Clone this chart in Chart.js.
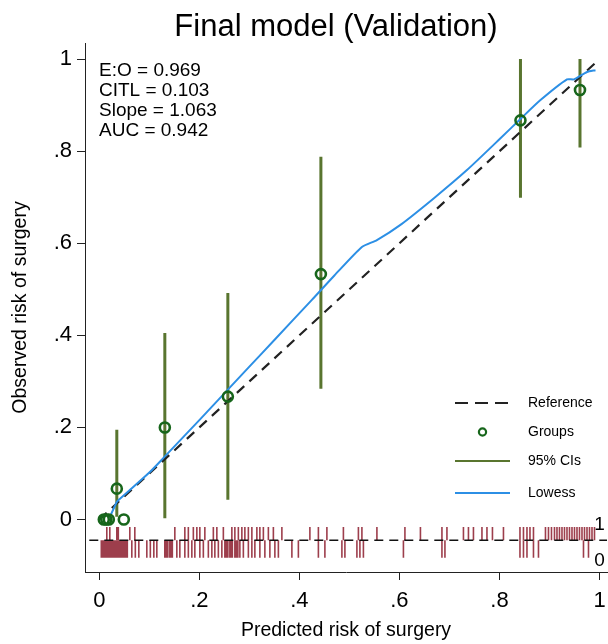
<!DOCTYPE html>
<html>
<head>
<meta charset="utf-8">
<script src="https://cdn.jsdelivr.net/npm/chart.js@4.4.0/dist/chart.umd.min.js"></script>
<style>
  body { margin: 0; background: #fff; }
  #wrap { width: 608px; height: 644px; position: relative; }
</style>
</head>
<body>
<div id="wrap"><canvas id="calib"></canvas></div>
<script>
// Calibration plot - final model, validation cohort

// Axis ticks
const tickValues = [0, 0.2, 0.4, 0.6, 0.8, 1];
const tickLabels = ['0', '.2', '.4', '.6', '.8', '1'];

// Risk groups: mean predicted vs observed
const groupX = [0.009, 0.014, 0.019, 0.035, 0.049, 0.131, 0.257, 0.443, 0.842, 0.961];
const groupY = [0, 0, 0, 0.067, 0, 0.200, 0.267, 0.533, 0.867, 0.933];

// 95% CIs (groups with events only)
const ciX = [0.035, 0.131, 0.257, 0.443, 0.842, 0.961];
const ciLow = [0.006, 0.003, 0.043, 0.284, 0.699, 0.808];
const ciHigh = [0.195, 0.405, 0.492, 0.788, 1.0, 1.0];

// Lowess smoother
const lowessX = [0.020, 0.035, 0.039, 0.060, 0.100, 0.125, 0.200, 0.257, 0.300, 0.350, 0.425, 0.470,
                 0.525, 0.555, 0.602, 0.669, 0.735, 0.802, 0.842, 0.882, 0.935, 0.949, 0.975, 0.992];
const lowessY = [0.003, 0.038, 0.043, 0.063, 0.102, 0.130, 0.216, 0.282, 0.332, 0.390, 0.477, 0.530,
                 0.592, 0.607, 0.640, 0.698, 0.759, 0.828, 0.870, 0.911, 0.956, 0.956, 0.972, 0.976];

// Rug: predicted risk of patients with surgery (up) and without (down)
const rugEvents = [0.015, 0.021, 0.035, 0.038, 0.061, 0.071, 0.151, 0.171, 0.178, 0.188, 0.195, 0.201,
                   0.211, 0.228, 0.235, 0.248, 0.265, 0.271, 0.278, 0.285, 0.291, 0.298, 0.305, 0.315,
                   0.321, 0.328, 0.338, 0.348, 0.365, 0.421, 0.438, 0.455, 0.488, 0.518, 0.525, 0.555,
                   0.611, 0.642, 0.685, 0.695, 0.728, 0.738, 0.748, 0.765, 0.775, 0.786, 0.808, 0.841,
                   0.848, 0.855, 0.861, 0.868, 0.892, 0.898, 0.904, 0.910, 0.915, 0.920, 0.925, 0.930,
                   0.935, 0.940, 0.945, 0.950, 0.955, 0.960, 0.965, 0.970, 0.975, 0.980, 0.985, 0.990];
const rugNonEvents = [0.004, 0.006, 0.008, 0.010, 0.012, 0.014, 0.016, 0.018, 0.020, 0.022, 0.024, 0.026,
                      0.028, 0.030, 0.032, 0.034, 0.036, 0.038, 0.041, 0.044, 0.047, 0.050, 0.053, 0.056,
                      0.065, 0.072, 0.079, 0.095, 0.102, 0.109, 0.115, 0.131, 0.134, 0.137, 0.141, 0.144,
                      0.146, 0.155, 0.161, 0.171, 0.178, 0.185, 0.191, 0.201, 0.208, 0.218, 0.225, 0.231,
                      0.238, 0.245, 0.251, 0.254, 0.257, 0.261, 0.263, 0.266, 0.271, 0.274, 0.277, 0.281,
                      0.288, 0.298, 0.305, 0.311, 0.321, 0.331, 0.341, 0.351, 0.358, 0.385, 0.398, 0.438,
                      0.451, 0.485, 0.491, 0.515, 0.521, 0.528, 0.608, 0.685, 0.691, 0.841, 0.848, 0.855,
                      0.868, 0.878, 0.968, 0.978];

const statLines = ['E:O = 0.969', 'CITL = 0.103', 'Slope = 1.063', 'AUC = 0.942'];
const legendLabels = ['Reference', 'Groups', '95% CIs', 'Lowess'];

const rugLevel = -0.045, rugTop = -0.016, rugBottom = -0.083;

const FONT = '"Liberation Sans", Arial, Helvetica, sans-serif';
const colGroup = '#17661b';
const colCI = '#59752f';
const colLowess = '#2c8fe5';
const colRug = 'rgba(140, 28, 45, 0.85)';

function segments(xs, lo, hi) {
    const pts = [];
    xs.forEach((x, i) => {
        pts.push({ x: x, y: Array.isArray(lo) ? lo[i] : lo });
        pts.push({ x: x, y: Array.isArray(hi) ? hi[i] : hi });
        pts.push({ x: x, y: null });
    });
    return pts;
}

// Text, legend and rug labels
const annotations = {
    id: 'annotations',
    afterDraw(chart) {
        const { ctx, chartArea: a, scales: { x, y } } = chart;
        ctx.save();
        ctx.fillStyle = '#000';
        ctx.font = '31px ' + FONT;
        ctx.textAlign = 'center';
        ctx.textBaseline = 'alphabetic';
        ctx.fillText('Final model (Validation)', 336, 36);

        ctx.font = '19px ' + FONT;
        ctx.textAlign = 'left';
        statLines.forEach((t, i) => ctx.fillText(t, a.left + 14, a.top + 33 + i * 20));

        // outcome labels at the rug
        ctx.font = '19px ' + FONT;
        ctx.textAlign = 'center';
        ctx.textBaseline = 'middle';
        ctx.fillText('1', x.getPixelForValue(1), y.getPixelForValue(rugTop) - 2);
        ctx.fillText('0', x.getPixelForValue(1), y.getPixelForValue(rugBottom) + 3);

        // legend
        const lx0 = a.right - 152, lx1 = a.right - 97, tx = a.right - 79;
        const rows = [403, 432, 461, 493];
        ctx.font = '14px ' + FONT;
        ctx.textAlign = 'left';
        ctx.textBaseline = 'middle';
        legendLabels.forEach((t, i) => ctx.fillText(t, tx, rows[i]));

        ctx.lineCap = 'butt';
        ctx.strokeStyle = '#222';
        ctx.lineWidth = 2.2;
        ctx.setLineDash([13, 7]);
        ctx.beginPath(); ctx.moveTo(lx0, rows[0]); ctx.lineTo(lx1, rows[0]); ctx.stroke();
        ctx.setLineDash([]);

        ctx.strokeStyle = colGroup;
        ctx.lineWidth = 2.2;
        ctx.beginPath(); ctx.arc((lx0 + lx1) / 2, rows[1], 3.6, 0, Math.PI * 2); ctx.stroke();

        ctx.strokeStyle = colCI;
        ctx.lineWidth = 2;
        ctx.beginPath(); ctx.moveTo(lx0, rows[2]); ctx.lineTo(lx1, rows[2]); ctx.stroke();

        ctx.strokeStyle = colLowess;
        ctx.lineWidth = 2;
        ctx.beginPath(); ctx.moveTo(lx0, rows[3]); ctx.lineTo(lx1, rows[3]); ctx.stroke();
        ctx.restore();
    }
};

function axisOpts(min, max, title) {
    return {
        type: 'linear',
        min: min,
        max: max,
        afterBuildTicks: axis => { axis.ticks = tickValues.map(v => ({ value: v })); },
        ticks: {
            color: '#000',
            font: { family: FONT, size: 22, lineHeight: 1.0 },
            padding: 5,
            callback: (v, i) => tickLabels[i]
        },
        grid: { drawOnChartArea: false, drawTicks: true, tickLength: 8, color: '#222', tickColor: '#222' },
        border: { display: true, color: '#222', width: 1 },
        title: { display: true, text: title, color: '#000', font: { family: FONT, size: 19.5 } }
    };
}

// x labels: no tick padding (keeps the "1" from shrinking the plot), pushed down by line height
const xOpts = axisOpts(-0.0286, 1.015, 'Predicted risk of surgery');
xOpts.ticks.padding = 0;
xOpts.ticks.font = { family: FONT, size: 22, lineHeight: 1.9 };
xOpts.ticks.maxRotation = 0;
xOpts.title.padding = { top: 0, bottom: 2 };
xOpts.afterFit = scale => { scale.height = 72; };

const yOpts = axisOpts(-0.114, 1.035, 'Observed risk of surgery');
yOpts.title.padding = { top: 9, bottom: 0 };
yOpts.afterFit = scale => { scale.width = 85; };

new Chart(document.getElementById('calib').getContext('2d'), {
    type: 'scatter',
    data: {
        datasets: [
            {
                label: 'Groups',
                data: groupX.map((x, i) => ({ x: x, y: groupY[i] })),
                pointStyle: 'circle',
                pointRadius: 5,
                borderWidth: 2.6,
                borderColor: colGroup,
                backgroundColor: 'rgba(0,0,0,0)',
                order: 0
            },
            {
                label: 'Lowess',
                type: 'line',
                data: lowessX.map((x, i) => ({ x: x, y: lowessY[i] })),
                borderColor: colLowess,
                borderWidth: 2,
                pointRadius: 0,
                tension: 0.2,
                order: 1
            },
            {
                label: 'Reference',
                type: 'line',
                data: [{ x: 0, y: 0 }, { x: 1, y: 1 }],
                borderColor: '#222',
                borderWidth: 2.2,
                borderDash: [10, 7],
                pointRadius: 0,
                order: 2
            },
            {
                label: '95% CIs',
                type: 'line',
                data: segments(ciX, ciLow, ciHigh),
                borderColor: colCI,
                borderWidth: 3,
                pointRadius: 0,
                spanGaps: false,
                order: 3
            },
            {
                label: 'rug line',
                type: 'line',
                data: [{ x: -0.05, y: rugLevel }, { x: 1.05, y: rugLevel }],
                borderColor: '#111',
                borderWidth: 1.5,
                borderDash: [9, 6],
                pointRadius: 0,
                order: 4
            },
            {
                label: 'rug events',
                type: 'line',
                data: segments(rugEvents, rugLevel, rugTop),
                borderColor: colRug,
                borderWidth: 1.6,
                pointRadius: 0,
                spanGaps: false,
                order: 5
            },
            {
                label: 'rug non-events',
                type: 'line',
                data: segments(rugNonEvents, rugLevel, rugBottom),
                borderColor: colRug,
                borderWidth: 1.6,
                pointRadius: 0,
                spanGaps: false,
                order: 5
            }
        ]
    },
    options: {
        responsive: true,
        maintainAspectRatio: false,
        animation: false,
        layout: { autoPadding: false, padding: { top: 43, right: 1, left: 0, bottom: 0 } },
        scales: { x: xOpts, y: yOpts },
        plugins: {
            legend: { display: false },
            tooltip: { enabled: false },
            title: { display: false }
        }
    },
    plugins: [annotations]
});
</script>
</body>
</html>
